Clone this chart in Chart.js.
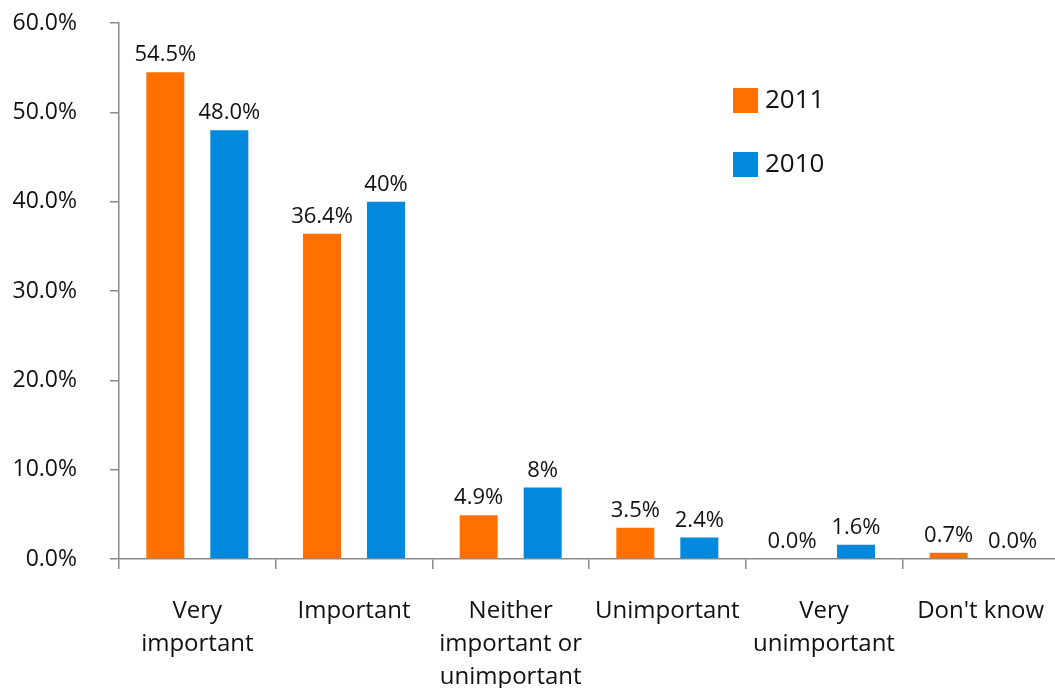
<!DOCTYPE html>
<html>
<head>
<meta charset="utf-8">
<title>Importance rating 2011 vs 2010</title>
<script src="https://cdn.jsdelivr.net/npm/chart.js@4.4.1/dist/chart.umd.min.js"></script>
<style>
  html, body { margin: 0; padding: 0; background: #fff; overflow: hidden; }
  #wrap { width: 1059px; height: 688px; }
</style>
</head>
<body>
<div id="wrap"><canvas id="myBarChart"></canvas></div>
<script>
var categories = [
  ['Very', 'important'],
  ['Important'],
  ['Neither', 'important or', 'unimportant'],
  ['Unimportant'],
  ['Very', 'unimportant'],
  ["Don't know"]
];
var series_names = ['2011', '2010'];
var values_2011 = [54.5, 36.4, 4.9, 3.5, 0.0, 0.7];
var values_2010 = [48.0, 40, 8, 2.4, 1.6, 0.0];
// decimals shown in the label of each bar
var decimals_2011 = [1, 1, 1, 1, 1, 1];
var decimals_2010 = [1, 0, 0, 1, 1, 1];
var y_ticks = [0, 10, 20, 30, 40, 50, 60];

var orange = '#ff7000';
var blue = '#0089dd';
var axis_grey = '#8a8a8a';

Chart.defaults.font.family = "'Open Sans', sans-serif";
Chart.defaults.color = '#111';

// value labels above each bar
var barValues = {
  id: 'barValues',
  afterDatasetsDraw: function (chart) {
    var ctx = chart.ctx;
    ctx.save();
    ctx.font = "22px 'Open Sans', sans-serif";
    ctx.fillStyle = '#111';
    ctx.textAlign = 'center';
    ctx.textBaseline = 'alphabetic';
    chart.data.datasets.forEach(function (ds, d) {
      var meta = chart.getDatasetMeta(d);
      meta.data.forEach(function (bar, i) {
        var txt = ds.data[i].toFixed(ds.decimals[i]) + '%';
        ctx.fillText(txt, bar.x, bar.y - 11);
      });
    });
    ctx.restore();
  }
};

// legend with square swatches inside the plot
var boxLegend = {
  id: 'boxLegend',
  afterDraw: function (chart) {
    var ctx = chart.ctx;
    ctx.save();
    ctx.font = "26px 'Open Sans', sans-serif";
    ctx.textBaseline = 'middle';
    ctx.textAlign = 'left';
    chart.data.datasets.forEach(function (ds, d) {
      var top = 88 + d * 64;
      ctx.fillStyle = ds.backgroundColor;
      ctx.fillRect(733, top, 25, 25);
      ctx.fillStyle = '#111';
      ctx.fillText(ds.label, 765, top + 13);
    });
    ctx.restore();
  }
};

var myBarChart = new Chart(document.getElementById('myBarChart'), {
  type: 'bar',
  data: {
    labels: categories,
    datasets: [{
      label: series_names[0],
      data: values_2011,
      decimals: decimals_2011,
      backgroundColor: orange,
      categoryPercentage: 0.817,
      barPercentage: 0.594
    }, {
      label: series_names[1],
      data: values_2010,
      decimals: decimals_2010,
      backgroundColor: blue,
      categoryPercentage: 0.817,
      barPercentage: 0.594
    }]
  },
  options: {
    responsive: true,
    maintainAspectRatio: false,
    animation: false,
    layout: { padding: { top: 23, right: 0, left: 0, bottom: 0 } },
    plugins: {
      legend: { display: false },
      tooltip: { enabled: false }
    },
    scales: {
      x: {
        border: { display: true, color: axis_grey, width: 1.5 },
        grid: { drawOnChartArea: false, drawTicks: true, tickLength: 10, color: axis_grey, lineWidth: 1.5 },
        ticks: {
          font: { size: 24, lineHeight: '33px' },
          color: '#111',
          padding: 26,
          maxRotation: 0,
          autoSkip: false
        },
        afterFit: function (scale) {
          scale.height = 129;
          scale.paddingLeft = 0;
          scale.paddingRight = 0;
        }
      },
      y: {
        min: 0,
        max: 60,
        afterBuildTicks: function (scale) {
          scale.ticks = y_ticks.map(function (v) { return { value: v }; });
        },
        border: { display: true, color: axis_grey, width: 1.5 },
        grid: { drawOnChartArea: false, drawTicks: true, tickLength: 9, color: axis_grey, lineWidth: 1.5 },
        ticks: {
          font: { size: 23 },
          color: '#111',
          padding: 33,
          callback: function (v) { return v.toFixed(1) + '%'; }
        },
        afterFit: function (scale) {
          scale.width = 119;
          scale.paddingTop = 0;
          scale.paddingBottom = 0;
        }
      }
    }
  },
  plugins: [barValues, boxLegend]
});
</script>
</body>
</html>
